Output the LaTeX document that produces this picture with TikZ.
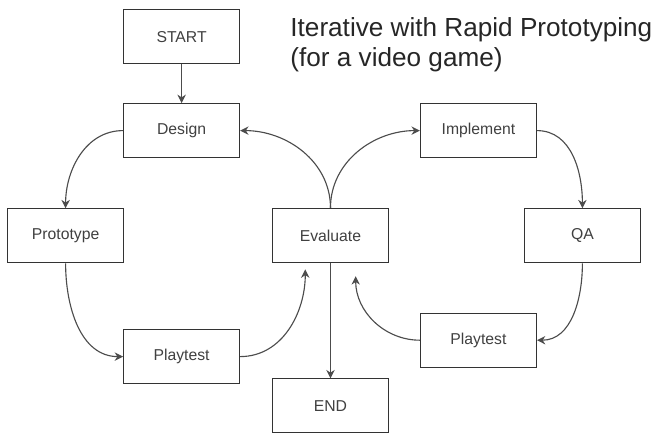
\documentclass[tikz,border=0pt]{standalone}
\usepackage{fontspec}
\setmainfont{Liberation Sans}
\usetikzlibrary{arrows.meta, positioning}

\begin{document}
\begin{tikzpicture}[node distance = 2.35cm, semithick,
    stage/.style={rectangle, draw=black!80, line width=0.75pt, fill=white,
                  minimum width=2.9cm, minimum height=1.35cm,
                  text=black!75, font=\fontsize{11.2}{13}\selectfont},
    flow/.style={draw=black!70, line width=0.8pt, -{Stealth[length=6pt, width=6pt]}}]
  \useasboundingbox (0,0) rectangle (16.4,10.825);

  \node[stage] at (4.54, 9.91) (start) {START};
  \node[stage, below of=start] (design) {Design};
  \node[stage, below of=design, xshift=-2.9cm, yshift=-0.28cm] (proto) {Prototype};
  \node[stage, below of=proto, xshift=2.9cm, yshift=-0.67cm] (playA) {Playtest};

  \node[stage] at (8.262, 4.938) (eval) {Evaluate};
  \node[stage, below of=eval, yshift=-1.91cm] (end) {END};

  \node[stage, right of=design, xshift=5.07cm] (impl) {Implement};
  \node[stage, below of=impl, xshift=2.6cm, yshift=-0.28cm] (qa) {QA};
  \node[stage, below of=qa, xshift=-2.6cm, yshift=-0.26cm] (playB) {Playtest};

  % the two playtest loops come back just under Evaluate
  \coordinate (evalL) at ([xshift=-0.63cm, yshift=-0.16cm]eval.south);
  \coordinate (evalR) at ([xshift=0.63cm, yshift=-0.33cm]eval.south);

  \draw[flow] (start) -- (design);
  \draw[flow] (design.west) to[out=180, in=90] (proto.north);
  \draw[flow] (proto.south) to[out=270, in=180] (playA.west);
  \draw[flow] (playA.east) to[out=0, in=270] (evalL);
  \draw[flow] (eval.north) to[out=90, in=0] (design.east);
  \draw[flow] (eval.north) to[out=90, in=180] (impl.west);
  \draw[flow] (impl.east) to[out=0, in=90] (qa.north);
  \draw[flow] (qa.south) to[out=270, in=0] (playB.east);
  \draw[flow] (playB.west) to[out=180, in=270] (evalR);
  \draw[flow] (eval) -- (end);

  \node[anchor=north west, inner sep=0pt, align=left, text=black!85,
        font=\fontsize{18.6}{21.3}\selectfont] at (7.25, 10.4) (title)
    {Iterative with Rapid Prototyping\\(for a video game)};
\end{tikzpicture}
\end{document}
